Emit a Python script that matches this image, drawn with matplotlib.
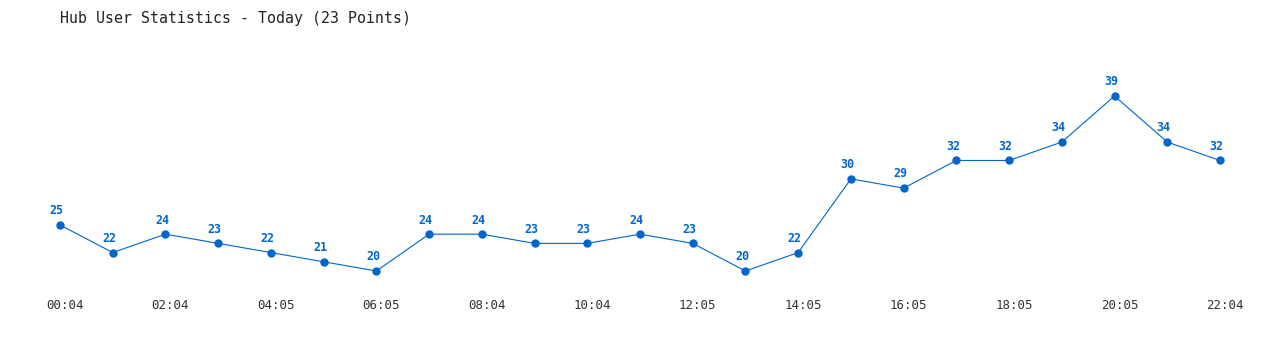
import numpy as np
import matplotlib
matplotlib.use("Agg")
import matplotlib.pyplot as plt
import matplotlib.transforms as mtransforms

# data
times = ["00:04", "01:04", "02:04", "03:04", "04:05", "05:05", "06:05", "07:04",
         "08:04", "09:04", "10:04", "11:04", "12:05", "13:05", "14:05", "15:05",
         "16:05", "17:05", "18:05", "19:05", "20:05", "21:05", "22:04"]
users = [25, 22, 24, 23, 22, 21, 20, 24, 24, 23, 23, 24, 23, 20, 22, 30,
         29, 32, 32, 34, 39, 34, 32]

color = "#0066cc"
mono = "DejaVu Sans Mono"

fig = plt.figure(figsize=(12.8, 3.5), dpi=100)
# axes sized so that index 0..22 and value 20..39 land where the reference puts them
ax = fig.add_axes([60 / 1280, 79 / 350, 1160 / 1280, 175 / 350])

x = np.arange(len(users))
ax.plot(x, users, color=color, lw=0.8, marker="o", ms=5, clip_on=False)

for xi, v in zip(x, users):
    ax.annotate(str(v), (xi, v), xytext=(-2.5, 5.5), textcoords="offset points",
                ha="center", va="bottom", fontsize=8.4, fontweight="bold",
                color=color, family=mono)

ax.set_xlim(0, len(users) - 1)
ax.set_ylim(20, 39)
ax.set_xticks(x[::2])
ax.set_xticklabels(times[::2], fontsize=9, family=mono, color="#333333")
ax.tick_params(axis="x", length=0, pad=20)
# labels sit a few pixels right of their point in the original
shift = mtransforms.ScaledTranslation(5 / 100, 0, fig.dpi_scale_trans)
for lbl in ax.get_xticklabels():
    lbl.set_transform(lbl.get_transform() + shift)
ax.set_yticks([])
for s in ax.spines.values():
    s.set_visible(False)

fig.text(60 / 1280, 1 - 18 / 350, "Hub User Statistics - Today (23 Points)",
         fontsize=10.7, family=mono, color="#222222", va="center", ha="left")

fig.savefig("out.png", dpi=100)
